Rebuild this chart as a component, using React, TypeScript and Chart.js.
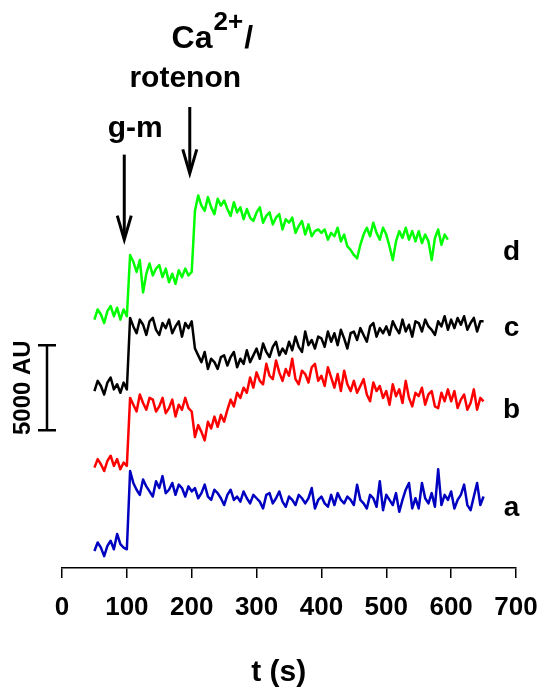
import React, { useEffect, useRef } from "react";
import { Chart, registerables } from "chart.js";

Chart.register(...registerables);

// time axis (s), shared by traces a, b, c; trace d uses the first 110 samples
const TIME = [
  50, 55, 60, 65, 70, 75, 80, 85, 90, 95,
  100, 105, 110, 115, 120, 125, 130, 135, 140, 145,
  150, 155, 160, 165, 170, 175, 180, 185, 190, 195,
  200, 205, 210, 215, 220, 225, 230, 235, 240, 245,
  250, 255, 260, 265, 270, 275, 280, 285, 290, 295,
  300, 305, 310, 315, 320, 325, 330, 335, 340, 345,
  350, 355, 360, 365, 370, 375, 380, 385, 390, 395,
  400, 405, 410, 415, 420, 425, 430, 435, 440, 445,
  450, 455, 460, 465, 470, 475, 480, 485, 490, 495,
  500, 505, 510, 515, 520, 525, 530, 535, 540, 545,
  550, 555, 560, 565, 570, 575, 580, 585, 590, 595,
  600, 605, 610, 615, 620, 625, 630, 635, 640, 645,
  650,
];

// fluorescence (AU), trace a (blue)
const TRACE_A = [
  1000, 1500, 1200, 700, 1300, 1600, 1100, 2000, 1400, 1200,
  1100, 5700, 5000, 4600, 4300, 5200, 4800, 4500, 4200, 5100,
  4700, 5400, 4400, 4600, 5000, 4300, 4900, 4700, 4200, 4800,
  4500, 4700, 4100, 4400, 4900, 4200, 4000, 4600, 4400, 4100,
  3700, 4300, 4600, 4000, 4200, 3900, 4500, 4100, 3800, 4300,
  4100, 3900, 3500, 4300, 4400, 3800, 4100, 4500, 3900, 3600,
  4200, 4000, 3700, 4300, 4100, 3800, 4100, 4700, 3500, 4000,
  4200, 3800, 3600, 4300, 3700, 4400, 4000, 3800, 4200, 4000,
  3700, 4900, 4000, 3800, 3500, 4300, 4100, 3600, 5100, 3400,
  4300, 4000, 3700, 4400, 3300, 4000, 4600, 5000, 3500, 4100,
  3500, 5000, 4100, 3800, 4400, 3600, 5800, 3700, 4300, 4000,
  4500, 3500, 4000, 4300, 4900, 3700, 3400, 4200, 5000, 3700,
  4200,
];

// trace b (red)
const TRACE_B = [
  5900, 6400, 6100, 5700, 6300, 6600, 6000, 6400, 5800, 6200,
  6000, 10000, 9600, 9200, 10200, 9700, 9300, 10000, 9900, 9200,
  9500, 10000, 9100, 9400, 9900, 8900, 9600, 9300, 10000, 9400,
  9200, 7700, 8400, 8000, 7500, 8600, 8200, 8900, 8300, 9000,
  8600, 9300, 9900, 9500, 10300, 10000, 10600, 10300, 11200, 10600,
  11500, 11000, 10800, 12000, 11300, 11100, 12200, 11500, 11000, 11700,
  11300, 12300, 11100, 10800, 11600, 11400, 10900, 11800, 12000, 11000,
  11300, 10700, 11800, 11200, 10600, 11400, 10400, 11600, 10800, 10400,
  11000, 10300, 10700, 11100, 10200, 9800, 10900, 10400, 10700, 10000,
  10400, 9600, 10800, 10100, 10500, 9700, 11000, 10000, 9500, 10300,
  10100, 10600, 9600, 10200, 10400, 9500, 9400, 10300, 9800, 10500,
  9800, 10400, 9400, 9900, 10200, 9300, 9700, 10500, 9300, 10000,
  9800,
];

// trace c (black)
const TRACE_C = [
  10400, 11000, 10700, 10200, 10900, 11200, 10500, 10800, 10300, 10900,
  10500, 14700, 14200, 13800, 14600, 14300, 13700, 14500, 14700, 14000,
  13700, 14400, 14100, 14600, 13800, 14200, 14500, 13600, 14400, 14100,
  14500, 12900, 12500, 12100, 12700, 11700, 12300, 12100, 11700, 12400,
  12500, 11900, 12400, 12700, 11800, 12300, 12000, 12800, 12100, 12500,
  12900, 12300, 13200, 12700, 12400, 13000, 13300, 12500, 12900, 12600,
  13300, 12800, 13600, 13000, 12700, 13900, 13100, 13400, 12900, 13600,
  13500, 13000, 13900, 13300, 13800, 13100, 14000, 13500, 12900, 13800,
  13900, 13400, 14100, 13700, 13300, 14200, 14400, 13600, 14100, 13800,
  14200, 13700, 14500, 14100, 13800, 14600, 13900, 14300, 13600, 14500,
  14400, 13900, 14600, 14200, 14000, 13700, 14500, 14200, 14800, 14000,
  14600, 14100, 14700, 14300, 14800, 14000, 14400, 14700, 13900, 14500,
  14500,
];

// trace d (green), 50..595 s
const TRACE_D = [
  14600, 15200, 14900, 14400, 15100, 15400, 14800, 15300, 14600, 15200,
  14800, 18400, 18000, 17400, 18100, 16200, 17300, 17900, 17200, 17600,
  17800, 17100, 17600, 16800, 17300, 16700, 17500, 17100, 17600, 17200,
  17400, 21000, 21900, 21300, 21000, 21800, 21200, 20800, 21700, 21300,
  21600, 21100, 20700, 21500, 20900, 21200, 20500, 21100, 20600, 20400,
  20900, 21200, 20300, 20700, 20900, 20200, 20600, 20800, 19900, 20500,
  20300, 20600, 19700, 20100, 20400, 19600, 20200, 19500, 19800, 19900,
  19700, 19900, 19300, 19700, 19500, 20000, 19200, 19600, 18900, 18700,
  18400, 18200, 19000, 19600, 20000, 19500, 20300, 19700, 19300, 20000,
  19600, 18900, 18100, 19200, 19800, 19400, 20000, 19300, 19800, 19200,
  19800, 19100, 19600, 19200, 18100, 19400, 19900, 19000, 19600, 19300,
];

const X_TICKS = [0, 100, 200, 300, 400, 500, 600, 700];
const TRACE_LABELS = ["a", "b", "c", "d"];
const TRACE_COLORS = ["#0000c0", "#ff0000", "#000000", "#00ff00"];
const LABEL_LEVELS = [3530, 9290, 14120, 18530]; // AU, where the letters sit
const SCALE_BAR = [8100, 13100]; // AU, 5000 AU span
const X_TITLE = "t (s)";
const SCALE_TEXT = "5000 AU";

const FONT = '"Liberation Sans", Arial, Helvetica, sans-serif';

const annotPlugin = {
  id: "annot",
  afterDraw(chart: any) {
    const ctx = chart.ctx as CanvasRenderingContext2D;
    const xs = chart.scales.x;
    const ys = chart.scales.y;
    const X = (v: number) => xs.getPixelForValue(v);
    const Y = (v: number) => ys.getPixelForValue(v);
    ctx.save();
    ctx.fillStyle = "#000";
    ctx.strokeStyle = "#000";

    // trace letters
    ctx.font = `bold 28px ${FONT}`;
    ctx.textAlign = "center";
    ctx.textBaseline = "middle";
    TRACE_LABELS.forEach((l, i) => {
      ctx.fillText(l, X(693), Y(LABEL_LEVELS[i]));
    });

    // arrows
    const arrow = (t: number, y0: number, y1: number) => {
      const x = X(t);
      const p0 = Y(y0);
      const p1 = Y(y1);
      ctx.lineWidth = 3;
      ctx.lineCap = "butt";
      ctx.beginPath();
      ctx.moveTo(x, p0);
      ctx.lineTo(x, p1 - 2);
      ctx.stroke();
      ctx.beginPath();
      ctx.moveTo(x - 7, p1 - 24);
      ctx.lineTo(x, p1);
      ctx.lineTo(x + 7, p1 - 24);
      ctx.stroke();
    };
    arrow(96, 24300, 19300);
    arrow(197, 27100, 23200);

    // texts
    ctx.textBaseline = "alphabetic";
    ctx.font = `bold 30px ${FONT}`;
    ctx.textAlign = "center";
    ctx.fillText("g-m", X(113), Y(25350));
    ctx.fillText("rotenon", X(190), Y(28290));
    ctx.textAlign = "left";
    const cx = X(169);
    const cy = Y(30590);
    ctx.font = `bold 32px ${FONT}`;
    ctx.fillText("Ca", cx, cy);
    const wCa = ctx.measureText("Ca").width;
    ctx.font = `bold 26px ${FONT}`;
    ctx.fillText("2+", cx + wCa + 1, cy - 18);
    const w2 = ctx.measureText("2+").width;
    ctx.font = `bold 32px ${FONT}`;
    ctx.fillText("/", cx + wCa + w2 + 2, cy);

    // scale bar
    const bx = X(0) - 15;
    const b0 = Y(SCALE_BAR[0]);
    const b1 = Y(SCALE_BAR[1]);
    ctx.lineWidth = 2.5;
    ctx.beginPath();
    ctx.moveTo(bx, b0);
    ctx.lineTo(bx, b1);
    ctx.moveTo(bx - 9, b0);
    ctx.lineTo(bx + 9, b0);
    ctx.moveTo(bx - 9, b1);
    ctx.lineTo(bx + 9, b1);
    ctx.stroke();
    ctx.save();
    ctx.translate(bx - 24, (b0 + b1) / 2);
    ctx.rotate(-Math.PI / 2);
    ctx.font = `bold 24px ${FONT}`;
    ctx.textAlign = "center";
    ctx.textBaseline = "middle";
    ctx.fillText(SCALE_TEXT, 0, 0);
    ctx.restore();

    // x title
    ctx.font = `bold 30px ${FONT}`;
    ctx.textAlign = "center";
    ctx.textBaseline = "middle";
    ctx.fillText(X_TITLE, X(334), chart.chartArea.bottom + 105);
    ctx.restore();
  },
};

export default function App() {
  const ref = useRef<HTMLCanvasElement | null>(null);
  useEffect(() => {
    if (!ref.current) return;
    const series = [TRACE_A, TRACE_B, TRACE_C, TRACE_D];
    const datasets = series.map((vals, i) => ({
      label: TRACE_LABELS[i],
      data: vals.map((v, k) => ({ x: TIME[k], y: v })),
      borderColor: TRACE_COLORS[i],
      backgroundColor: TRACE_COLORS[i],
      borderWidth: 2.5,
      borderJoinStyle: "round",
      pointRadius: 0,
      tension: 0,
      fill: false,
    }));
    const chart = new Chart(ref.current, {
      type: "line",
      data: { datasets },
      options: {
        animation: false,
        responsive: false,
        devicePixelRatio: 1,
        layout: { padding: { top: 10, left: 62, right: 24, bottom: 0 } },
        plugins: { legend: { display: false }, tooltip: { enabled: false } },
        scales: {
          x: {
            type: "linear",
            min: 0,
            max: 700,
            afterBuildTicks: (s: any) => {
              s.ticks = X_TICKS.map((v) => ({ value: v }));
            },
            afterFit: (s: any) => {
              s.height = 122;
              s.paddingLeft = 0;
              s.paddingRight = 0;
            },
            ticks: {
              color: "#000",
              font: { family: FONT, size: 26, weight: "bold" },
              padding: 14,
              maxRotation: 0,
              autoSkip: false,
            },
            grid: {
              drawOnChartArea: false,
              drawTicks: true,
              tickLength: 10,
              color: "#000",
              lineWidth: 1.5,
            },
            border: { display: true, color: "#000", width: 1.5 },
          },
          y: { display: false, min: 0, max: 32800 },
        },
      },
      plugins: [annotPlugin],
    } as any);
    return () => chart.destroy();
  }, []);
  return (
    <div style={{ position: "fixed", left: 0, top: 0, width: 540, height: 690, background: "#fff" }}>
      <canvas ref={ref} width={540} height={690} />
    </div>
  );
}
